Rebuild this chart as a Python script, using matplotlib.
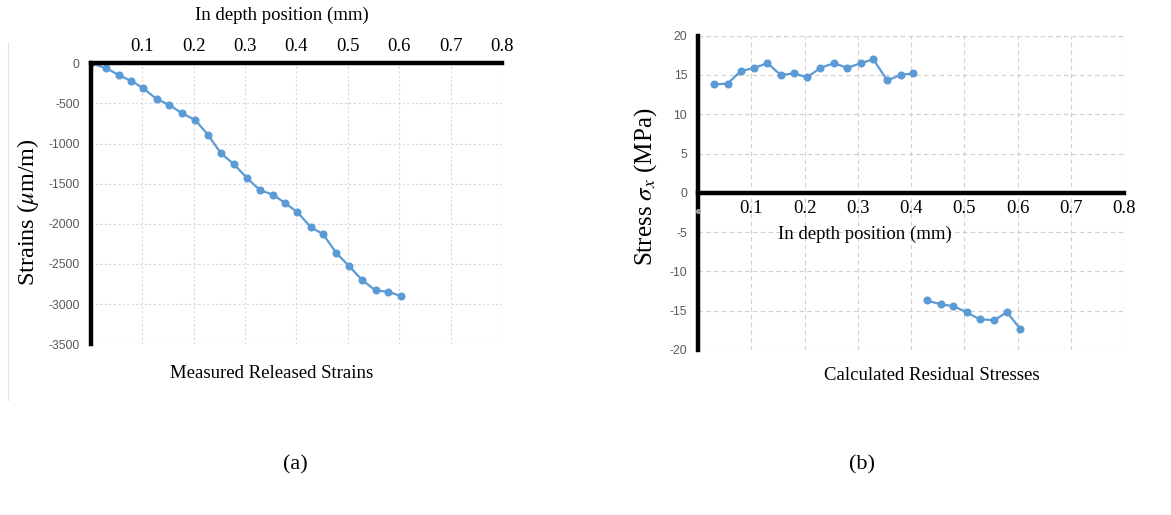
import matplotlib
matplotlib.use("Agg")
import matplotlib.pyplot as plt
from matplotlib.lines import Line2D

plt.rcParams['mathtext.fontset'] = 'stix'

# ---- data: (a) measured released strains ----
depth_a = [0, 0.030, 0.054, 0.079, 0.102, 0.128, 0.153, 0.178, 0.203, 0.228,
           0.253, 0.279, 0.304, 0.329, 0.354, 0.377, 0.402, 0.428, 0.452, 0.478,
           0.503, 0.528, 0.554, 0.578, 0.604]
strain_a = [0, -60, -145, -220, -310, -445, -520, -625, -705, -890,
            -1120, -1260, -1430, -1580, -1635, -1735, -1855, -2040, -2130, -2365,
            -2530, -2700, -2830, -2845, -2900]

# ---- data: (b) calculated residual stresses ----
depth_b1 = [0.030, 0.055, 0.080, 0.105, 0.130, 0.155, 0.179, 0.205, 0.229, 0.255,
            0.280, 0.305, 0.329, 0.355, 0.380, 0.404]
stress_b1 = [13.8, 13.9, 15.5, 15.9, 16.5, 15.0, 15.2, 14.7, 15.9, 16.5,
             15.9, 16.5, 17.0, 14.3, 15.0, 15.2]
depth_b2 = [0.430, 0.456, 0.479, 0.504, 0.529, 0.556, 0.580, 0.605]
stress_b2 = [-13.7, -14.2, -14.4, -15.2, -16.1, -16.2, -15.2, -17.3]

x_ticks = [0.1, 0.2, 0.3, 0.4, 0.5, 0.6, 0.7, 0.8]
y_ticks_a = [0, -500, -1000, -1500, -2000, -2500, -3000, -3500]
y_ticks_b = [20, 15, 10, 5, 0, -5, -10, -15, -20]

BLUE = '#5b9bd5'
GRID = '#d9d9d9'
TICKC = '#595959'
SERIF = ['Liberation Serif', 'DejaVu Serif']
SANS = ['Liberation Sans', 'DejaVu Sans']

fig = plt.figure(figsize=(11.71, 5.15), dpi=100)

# ================= (a) =================
axA = fig.add_axes([0.0775, 0.3315, 0.3512, 0.5456])
axA.plot(depth_a, strain_a, color=BLUE, lw=1.6, marker='o', ms=4.8, zorder=3)
axA.set_xlim(0, 0.8)
axA.set_ylim(-3500, 0)
for s in ['bottom', 'right']:
    axA.spines[s].set_visible(False)
for s in ['top', 'left']:
    axA.spines[s].set_linewidth(3.2)
    axA.spines[s].set_color('black')
    axA.spines[s].set_zorder(4)
axA.xaxis.tick_top()
axA.set_xticks(x_ticks)
axA.set_yticks(y_ticks_a)
axA.set_xticklabels([f"{v:.1f}" for v in x_ticks], family=SERIF, fontsize=13.5)
axA.set_yticklabels([str(v) for v in y_ticks_a], family=SANS, fontsize=8.7, color=TICKC)
axA.tick_params(axis='both', length=0)
axA.tick_params(axis='x', pad=6)
axA.tick_params(axis='y', pad=8)
axA.grid(True, color=GRID, lw=0.8, ls=(0, (2, 2)))
axA.set_axisbelow(True)
axA.axvline(0.8, color=GRID, lw=0.8, ls=(0, (2, 2)), zorder=0)
axA.axhline(-3500, color=GRID, lw=0.8, ls=(0, (2, 2)), zorder=0)

fig.text(282/1171, 1-15/515, "In depth position (mm)", family=SERIF, fontsize=13.5,
         ha='center', va='center')
fig.text(28/1171, 1-212/515, r"Strains ($\mu$m/m)", family=SERIF, fontsize=17.5,
         ha='center', va='center', rotation=90)
fig.text(272/1171, 1-373/515, "Measured Released Strains", family=SERIF, fontsize=13.5,
         ha='center', va='center')
fig.add_artist(Line2D([8/1171, 8/1171], [1-43/515, 1-400/515], color='#e0e0e0', lw=0.8,
                      transform=fig.transFigure))

# ================= (b) =================
axB = fig.add_axes([0.5963, 0.3204, 0.3636, 0.6103])
axB.plot(depth_b1, stress_b1, color=BLUE, lw=1.6, marker='o', ms=4.8, zorder=3)
axB.plot(depth_b2, stress_b2, color=BLUE, lw=1.6, marker='o', ms=4.8, zorder=3)
axB.plot([0.0], [-2.3], marker='o', ms=3, color=BLUE, mec='#e0a060', mew=0.6,
         zorder=5, clip_on=False)
axB.set_xlim(0, 0.8)
axB.set_ylim(-20, 20)
axB.spines['top'].set_visible(False)
axB.spines['right'].set_visible(False)
axB.spines['bottom'].set_position(('data', 0))
for s in ['bottom', 'left']:
    axB.spines[s].set_linewidth(3.2)
    axB.spines[s].set_color('black')
    axB.spines[s].set_zorder(4)
axB.set_xticks(x_ticks)
axB.set_yticks(y_ticks_b)
axB.set_xticklabels([f"{v:.1f}" for v in x_ticks], family=SERIF, fontsize=13.5)
axB.set_yticklabels([str(v) for v in y_ticks_b], family=SANS, fontsize=8.7, color=TICKC)
axB.tick_params(axis='both', length=0)
axB.tick_params(axis='x', pad=5)
axB.tick_params(axis='y', pad=8)
axB.grid(True, color='#cfcfcf', lw=0.8, ls=(0, (4, 3)))
axB.set_axisbelow(True)
axB.axvline(0.8, color='#cfcfcf', lw=0.8, ls=(0, (4, 3)), zorder=0)
axB.axhline(20, color='#cfcfcf', lw=0.8, ls=(0, (4, 3)), zorder=0)
axB.axhline(-20, color='#cfcfcf', lw=0.8, ls=(0, (4, 3)), zorder=0)

fig.text(865/1171, 1-234/515, "In depth position (mm)", family=SERIF, fontsize=13.5,
         ha='center', va='center')
fig.text(646/1171, 1-187/515, r"Stress $\sigma_x$ (MPa)", family=SERIF, fontsize=18,
         ha='center', va='center', rotation=90)
fig.text(932/1171, 1-375/515, "Calculated Residual Stresses", family=SERIF, fontsize=13.5,
         ha='center', va='center')

fig.text(295/1171, 1-465/515, "(a)", family=SERIF, fontsize=16, ha='center', va='center')
fig.text(862/1171, 1-465/515, "(b)", family=SERIF, fontsize=16, ha='center', va='center')

fig.savefig("out.png", dpi=100)
